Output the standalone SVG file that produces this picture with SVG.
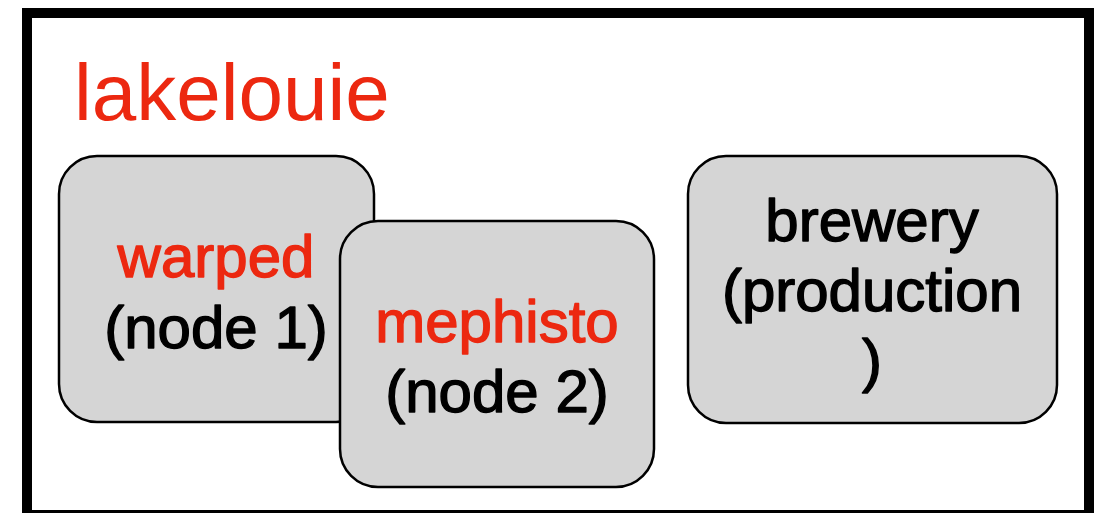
<svg xmlns="http://www.w3.org/2000/svg" width="1099" height="513" viewBox="0 0 1099 513">
  <style>
    .frame { fill: #ffffff; stroke: #000000; stroke-width: 10; }
    .box { fill: #d5d5d5; stroke: #000000; stroke-width: 2.5; }
    .lbl { font-family: "Liberation Sans", Arial, Helvetica, sans-serif; font-size: 60px; text-anchor: middle; fill: #000000; stroke: #000000; stroke-width: 1.4; stroke-linejoin: round; }
    .red { fill: #ec2810; stroke: #ec2810; }
    .title { font-family: "Liberation Sans", Arial, Helvetica, sans-serif; font-size: 80px; fill: #ec2810; }
  </style>
  <rect width="1099" height="513" fill="#ffffff"/>

  <!-- cluster frame -->
  <g id="cluster-lakelouie">
    <rect class="frame" x="27" y="13" width="1062" height="502"/>
    <text class="title" x="74" y="120">lakelouie</text>
  </g>

  <g id="connectors"></g>

  <g id="node-warped">
    <rect class="box" x="59" y="156" width="315" height="266" rx="38" ry="38"/>
    <text class="lbl" x="216" y="277"><tspan class="red">warped</tspan></text>
    <text class="lbl" x="216" y="348">(node 1)</text>
  </g>

  <g id="node-mephisto">
    <rect class="box" x="340" y="221" width="314" height="266" rx="38" ry="38"/>
    <text class="lbl" x="497" y="342"><tspan class="red">mephisto</tspan></text>
    <text class="lbl" x="497" y="412">(node 2)</text>
  </g>

  <g id="node-brewery">
    <rect class="box" x="688" y="156" width="369" height="267" rx="38" ry="38"/>
    <text class="lbl" x="872" y="241">brewery</text>
    <text class="lbl" x="872" y="311">(production</text>
    <text class="lbl" x="872" y="381">)</text>
  </g>
</svg>
